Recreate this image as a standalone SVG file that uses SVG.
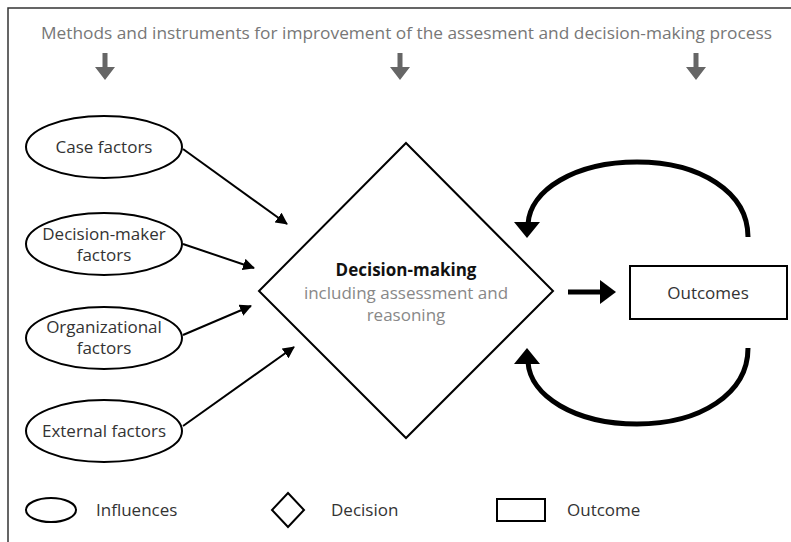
<svg xmlns="http://www.w3.org/2000/svg" width="791" height="542" viewBox="0 0 791 542">
<defs>
<style>
text{font-family:"Open Sans","DejaVu Sans",sans-serif;font-size:17px;fill:#333;}
.title{fill:#777;}
.sub{fill:#888;}
.bold{font-weight:bold;fill:#111;}
.shape{fill:#fff;stroke:#000;stroke-width:2;}
.thin{stroke:#000;stroke-width:2;fill:none;}
.thick{stroke:#000;stroke-width:5;fill:none;}
.gray{fill:#666;}
</style>
<marker id="ah" viewBox="0 0 12 12" markerWidth="12" markerHeight="12" markerUnits="userSpaceOnUse" refX="11" refY="6" orient="auto">
<path d="M0,0 L12,6 L0,12 z" fill="#000"/>
</marker>
</defs>
<rect width="791" height="542" fill="#fff"/>
<path d="M8,542 L8,8 L791,8" fill="none" stroke="#333" stroke-width="1.5"/>
<text class="title" x="41" y="39" textLength="731" lengthAdjust="spacingAndGlyphs">Methods and instruments for improvement of the assesment and decision-making process</text>
<g id="method-arrows" class="gray">
<path d="M102.5,53 h5 v14 h7.5 l-10,13 l-10,-13 h7.5 z"/>
<path d="M397.5,53 h5 v14 h7.5 l-10,13 l-10,-13 h7.5 z"/>
<path d="M693.5,53 h5 v14 h7.5 l-10,13 l-10,-13 h7.5 z"/>
</g>
<g id="case">
<ellipse class="shape" cx="104" cy="147" rx="78" ry="31"/>
<text x="104" y="153" text-anchor="middle">Case factors</text>
</g>
<g id="decision-maker">
<ellipse class="shape" cx="104" cy="244" rx="78" ry="31"/>
<text x="104" y="240" text-anchor="middle">Decision-maker</text>
<text x="104" y="261" text-anchor="middle">factors</text>
</g>
<g id="organizational">
<ellipse class="shape" cx="104" cy="338" rx="78" ry="31"/>
<text x="104" y="333" text-anchor="middle">Organizational</text>
<text x="104" y="354" text-anchor="middle">factors</text>
</g>
<g id="external">
<ellipse class="shape" cx="104" cy="431" rx="78" ry="31"/>
<text x="104" y="437" text-anchor="middle">External factors</text>
</g>
<g id="decision">
<polygon class="shape" points="406,143 553,291 406,438 259,291"/>
<text class="bold" x="406" y="276" text-anchor="middle">Decision-making</text>
<text class="sub" x="406" y="299" text-anchor="middle">including assessment and</text>
<text class="sub" x="406" y="321" text-anchor="middle">reasoning</text>
</g>
<g id="outcomes">
<rect class="shape" x="630" y="266" width="157" height="53"/>
<text x="708" y="299" text-anchor="middle">Outcomes</text>
</g>
<g id="connectors">
<line class="thin" x1="183" y1="149" x2="287" y2="224" marker-end="url(#ah)"/>
<line class="thin" x1="183" y1="244" x2="254" y2="268" marker-end="url(#ah)"/>
<line class="thin" x1="183" y1="335" x2="251" y2="306" marker-end="url(#ah)"/>
<line class="thin" x1="183" y1="426" x2="294" y2="347" marker-end="url(#ah)"/>
<line class="thick" x1="568" y1="292" x2="602" y2="292"/>
<polygon points="600,280 616,292 600,304" fill="#000"/>
<path class="thick" d="M748,237 C748,192 700,162 637,162 C575,162 530,190 528,224"/>
<polygon points="514,222 540,222 527,238" fill="#000"/>
<path class="thick" d="M748,348 C748,394 700,424 637,424 C575,424 530,396 528,362"/>
<polygon points="514,364 540,364 527,348" fill="#000"/>
</g>
<g id="legend">
<ellipse class="shape" cx="51" cy="510" rx="25" ry="12"/>
<text x="96" y="516">Influences</text>
<polygon class="shape" points="288,493 304,510 288,527 272,510"/>
<text x="331" y="516">Decision</text>
<rect class="shape" x="497" y="499" width="48" height="22"/>
<text x="567" y="516">Outcome</text>
</g>
</svg>
